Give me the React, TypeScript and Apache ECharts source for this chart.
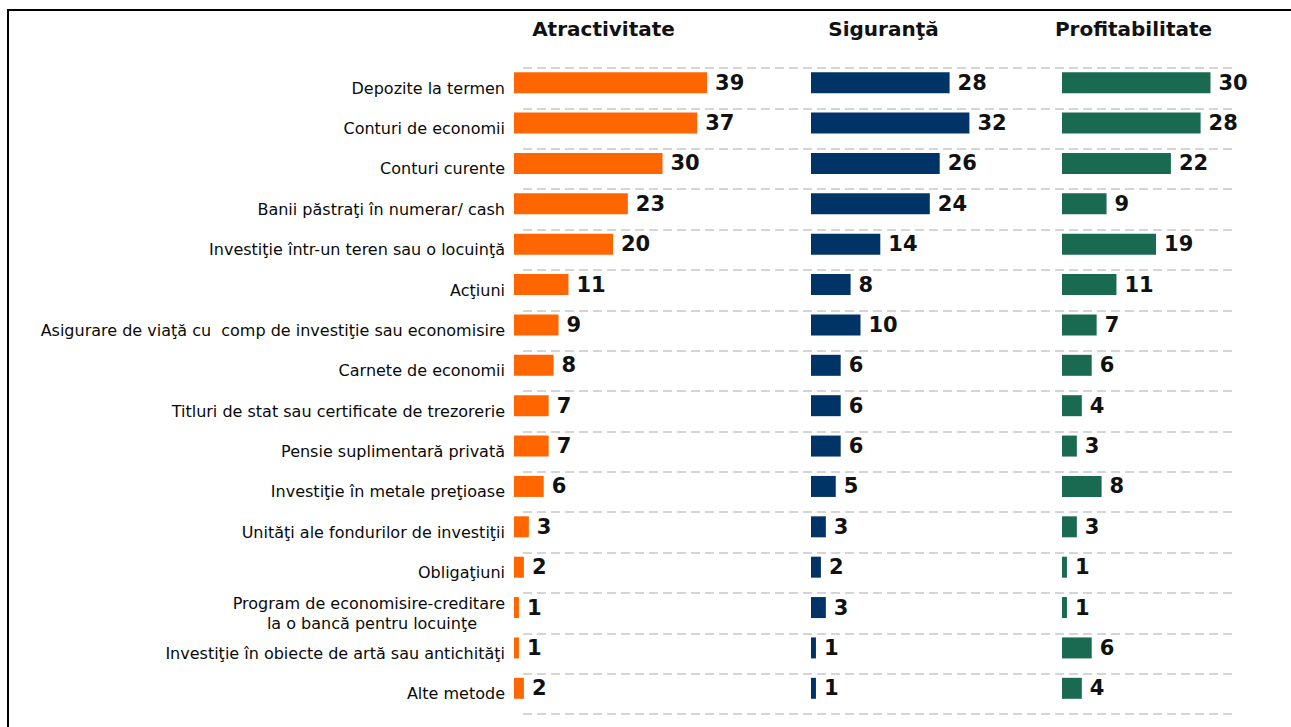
import React, { useEffect, useRef } from "react";
import * as echarts from "echarts";

const categories = [
  "Depozite la termen",
  "Conturi de economii",
  "Conturi curente",
  "Banii păstraţi în numerar/ cash",
  "Investiţie într-un teren sau o locuinţă",
  "Acţiuni",
  "Asigurare de viaţă cu  comp de investiţie sau economisire",
  "Carnete de economii",
  "Titluri de stat sau certificate de trezorerie",
  "Pensie suplimentară privată",
  "Investiţie în metale preţioase",
  "Unităţi ale fondurilor de investiţii",
  "Obligaţiuni",
  "Program de economisire-creditare\nla o bancă pentru locuinţe",
  "Investiţie în obiecte de artă sau antichităţi",
  "Alte metode",
];

const panelTitles = ["Atractivitate", "Siguranţă", "Profitabilitate"];

const atractivitate = [39, 37, 30, 23, 20, 11, 9, 8, 7, 7, 6, 3, 2, 1, 1, 2];
const siguranta = [28, 32, 26, 24, 14, 8, 10, 6, 6, 6, 5, 3, 2, 3, 1, 1];
const profitabilitate = [30, 28, 22, 9, 19, 11, 7, 6, 4, 3, 8, 3, 1, 1, 6, 4];

const panelColors = ["#FF6600", "#003366", "#1A6A51"];

export default function App() {
  const ref = useRef<HTMLDivElement>(null);

  useEffect(() => {
    if (!ref.current) return;
    const chart = echarts.init(ref.current, null, { renderer: "svg" });
    const panels = [atractivitate, siguranta, profitabilitate];
    const lefts = [514, 811, 1062];
    const titleCenters = [603.5, 883.5, 1133.5];
    const TOP = 68;
    const HEIGHT = 646;
    const XMAX = 40;
    const WIDTH = 198;

    const grids: any[] = [
      { left: 523, width: 712, top: TOP, height: HEIGHT },
    ];
    const xAxes: any[] = [{ type: "value", gridIndex: 0, show: false }];
    const yAxes: any[] = [
      {
        type: "category",
        gridIndex: 0,
        data: categories,
        inverse: true,
        axisLine: { show: false },
        axisTick: { show: false },
        axisLabel: { show: false },
        splitLine: {
          show: true,
          lineStyle: { color: "#c8c8c8", width: 1.5, type: [9, 5] },
        },
      },
    ];
    const series: any[] = [];

    panels.forEach((vals, i) => {
      const gi = i + 1;
      grids.push({ left: lefts[i], width: WIDTH, top: TOP, height: HEIGHT });
      xAxes.push({ type: "value", gridIndex: gi, min: 0, max: XMAX, show: false });
      yAxes.push({
        type: "category",
        gridIndex: gi,
        data: categories,
        inverse: true,
        axisLine: { show: false },
        axisTick: { show: false },
        splitLine: { show: false },
        axisLabel: {
          show: i === 0,
          margin: 9,
          color: "#0a0a0a",
          fontFamily: "DejaVu Sans",
          fontSize: 16,
          lineHeight: 20,
          formatter: (v: string) => {
            const parts = v.split("\n");
            if (parts.length === 1) return "{a|" + v + "}";
            return "{a|" + parts[0] + "}\n{b|" + parts[1] + "}";
          },
          rich: {
            a: { fontFamily: "DejaVu Sans", fontSize: 16, color: "#0a0a0a", lineHeight: 20 },
            b: {
              fontFamily: "DejaVu Sans",
              fontSize: 16,
              color: "#0a0a0a",
              lineHeight: 20,
              padding: [0, 28, 0, 0],
            },
          },
        },
      });
      series.push({
        type: "bar",
        xAxisIndex: gi,
        yAxisIndex: gi,
        data: vals,
        barWidth: 21,
        barGap: "0%",
        itemStyle: { color: panelColors[i] },
        label: {
          show: true,
          position: "right",
          distance: 8,
          color: "#111",
          fontFamily: "DejaVu Sans",
          fontWeight: "bold",
          fontSize: 21,
        },
      });
      series.push({
        type: "bar",
        xAxisIndex: gi,
        yAxisIndex: gi,
        data: vals.map(() => 0),
        barWidth: 11,
        barGap: "0%",
        silent: true,
        itemStyle: { color: "rgba(0,0,0,0)" },
        label: { show: false },
      });
    });

    chart.setOption({
      animation: false,
      backgroundColor: "#ffffff",
      title: panelTitles.map((t, i) => ({
        text: t,
        left: titleCenters[i],
        top: 19,
        padding: 0,
        textAlign: "center",
        textStyle: {
          fontFamily: "DejaVu Sans",
          fontWeight: "bold",
          fontSize: 20,
          color: "#111",
        },
      })),
      grid: grids,
      xAxis: xAxes,
      yAxis: yAxes,
      series,
      graphic: [
        {
          type: "line",
          shape: { x1: 7, y1: 10, x2: 1291, y2: 10 },
          style: { stroke: "#000", lineWidth: 2 },
        },
        {
          type: "line",
          shape: { x1: 8, y1: 9, x2: 8, y2: 727 },
          style: { stroke: "#000", lineWidth: 2 },
        },
      ],
    });

    return () => chart.dispose();
  }, []);

  return (
    <div
      ref={ref}
      style={{ position: "fixed", left: 0, top: 0, width: 1291, height: 727 }}
    />
  );
}
